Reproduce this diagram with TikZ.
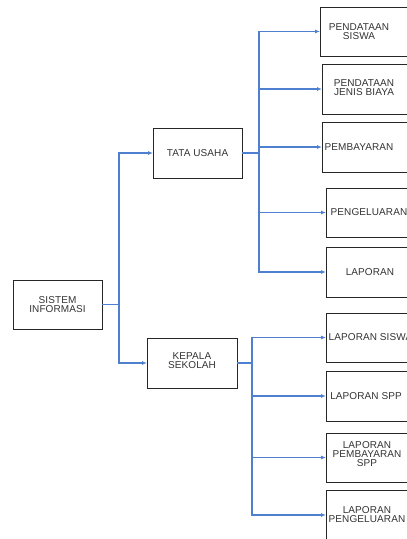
\documentclass[tikz,border=0pt]{standalone}
\usepackage{fontspec}
\setmainfont{Liberation Sans}
\usetikzlibrary{arrows.meta}
\definecolor{lineblue}{HTML}{4F7FCF}
\tikzset{
  box/.style={draw=black!85, line width=0.9pt, rectangle, inner sep=0pt, outer sep=0pt},
  lbl/.style={inner sep=0pt, align=center, text=black!80, font=\fontsize{10}{9}\selectfont\addfontfeatures{LetterSpace=1}},
  conn/.style={draw=lineblue, line width=1.2pt},
  arr/.style={conn, -{Latex[length=5pt,width=4pt]}}
}
\begin{document}
\begin{tikzpicture}[x=1pt,y=-1pt]
\clip (0,0) rectangle (407,539);
% left boxes
\node[box, minimum width=89pt, minimum height=49pt] (si) at (57.5,304.5) {};
\node[lbl] (tsi) at (57.5,304.5) {SISTEM\\INFORMASI};
\node[box, minimum width=89pt, minimum height=50pt] (tu) at (197.5,153) {};
\node[lbl] (ttu) at (197.5,153) {TATA USAHA};
\node[box, minimum width=90pt, minimum height=50pt] (ks) at (192,363) {};
\node[lbl] (tks) at (192,360.5) {KEPALA\\SEKOLAH};
% right boxes
\node[box, minimum width=100pt, minimum height=49pt] (b1) at (370,31.5) {};
\node[lbl] (t1) at (359,31.5) {PENDATAAN\\SISWA};
\node[box, minimum width=98pt, minimum height=50pt] (b2) at (371,89) {};
\node[lbl] (t2) at (364,87.5) {PENDATAAN\\JENIS BIAYA};
\node[box, minimum width=98pt, minimum height=50pt] (b3) at (371,147) {};
\node[lbl] (t3) at (359,147) {PEMBAYARAN};
\node[box, minimum width=94pt, minimum height=49pt] (b4) at (373,212.5) {};
\node[lbl, anchor=west] (t4) at (330.5,212) {PENGELUARAN};
\node[box, minimum width=94pt, minimum height=50pt] (b5) at (373,272) {};
\node[lbl] (t5) at (370,272) {LAPORAN};
\node[box, minimum width=94pt, minimum height=49pt] (b6) at (373,337.5) {};
\node[lbl, anchor=west] (t6) at (328.5,337) {LAPORAN SISWA};
\node[box, minimum width=94pt, minimum height=50pt] (b7) at (373,396) {};
\node[lbl] (t7) at (366,396) {LAPORAN SPP};
\node[box, minimum width=94pt, minimum height=49pt] (b8) at (373,457.5) {};
\node[lbl] (t8) at (367,454) {LAPORAN\\PEMBAYARAN\\SPP};
\node[box, minimum width=94pt, minimum height=50pt] (b9) at (373,515) {};
\node[lbl] (t9) at (367,514.5) {LAPORAN\\PENGELUARAN};
% junctions
\coordinate (js) at (119,304.5);
\coordinate (jt) at (259,153);
\coordinate (jb) at (252,363);
% connectors
\draw[conn] (si.east) -- (js);
\draw[arr] (js) |- (tu.west);
\draw[arr] (js) |- (ks.west);
\draw[conn] (tu.east) -- (jt);
\foreach \b in {b1,b2,b3,b4,b5} \draw[arr] (jt) |- (\b.west);
\draw[conn] (ks.east) -- (jb);
\foreach \b in {b6,b7,b8,b9} \draw[arr] (jb) |- (\b.west);
\end{tikzpicture}
\end{document}
